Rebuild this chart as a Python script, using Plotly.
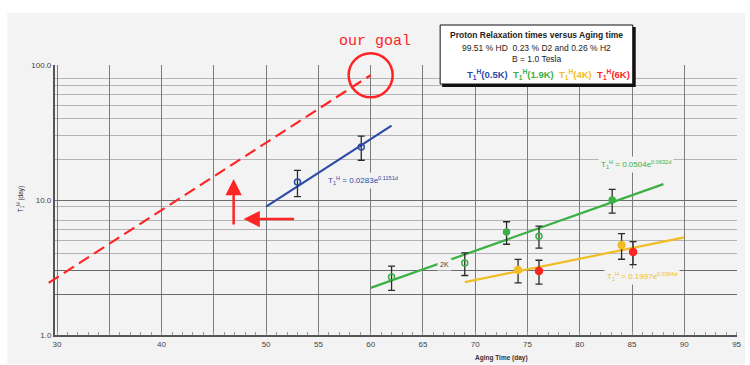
import math
import plotly.graph_objects as go

# ---- measured proton T1 (days) versus aging time (days), symmetric errors ----
days_05K = [53.0, 59.1]
t1_05K = [13.6, 24.7]
err_05K = [3.0, 5.0]

days_19K = [62.0, 69.0, 73.0, 76.1, 83.1]
t1_19K = [2.69, 3.41, 5.8, 5.4, 10.0]
err_19K = [0.55, 0.65, 1.1, 1.0, 2.0]
filled_19K = [False, False, True, False, True]

days_4K = [74.1, 84.0]
t1_4K = [3.03, 4.64]
err_4K = [0.6, 1.0]

days_6K = [76.1, 85.1]
t1_6K = [2.98, 4.12]
err_6K = [0.6, 0.8]

# exponential fits T1 = A * exp(k * d) and the day span each one is drawn over
fit_names = ["0.5K", "1.9K", "4K"]
fit_A = [0.0283, 0.0504, 0.1997]
fit_k = [0.1151, 0.0632, 0.0364]
fit_start = [50.0, 60.0, 69.0]
fit_end = [62.0, 88.0, 90.0]

# target line
goal_days = [29.2, 60.0]
goal_t1 = [2.43, 84.0]

# axis ticks
x_tick_vals = [30, 35, 40, 45, 50, 55, 60, 65, 70, 75, 80, 85, 90, 95]
x_tick_text = ["30", "", "40", "", "50", "55", "60", "65", "70", "75", "80", "85", "90", "95"]
y_tick_vals = [1, 2, 3, 10, 100]
y_tick_text = ["1.0", "", "", "10.0", "100.0"]
y_minor_vals = [4, 5, 6, 7, 9, 20, 30, 40, 50, 60, 70, 80]

BLUE = "#2d4ca8"
GREEN = "#3bb044"
YELLOW = "#f0bd25"
RED = "#ff2424"
BG = "#f3f3f3"
FONT = "Liberation Sans, Arial, sans-serif"
MONO = "Liberation Mono, DejaVu Sans Mono, monospace"

W, H = 750, 365
ML, MR, MT, MB = 45, 8, 65, 30
PW, PH = W - ML - MR, H - MT - MB


def px(x):
    return (x - ML) / PW


def py(y):
    return (MT + PH - y) / PH


x_lo, x_hi = 29.8, 95.04
x_dom0 = px(55)
units_per_frac = (x_hi - x_lo) / (1 - x_dom0)
x2_lo = x_lo - x_dom0 * units_per_frac

fig = go.Figure()

# target line and circle live on a wider overlay subplot so they can run past the axis
fig.add_trace(go.Scatter(
    x=goal_days, y=goal_t1, mode="lines",
    line=dict(color=RED, width=2.2, dash="12px,6px"),
    xaxis="x2", yaxis="y2", hoverinfo="skip"))
fig.add_trace(go.Scatter(
    x=[goal_days[-1]], y=[goal_t1[-1]], mode="markers",
    marker=dict(symbol="circle-open", size=44, color=RED, line=dict(width=2.5, color=RED)),
    cliponaxis=False, xaxis="x2", yaxis="y2", hoverinfo="skip"))

# fit lines
for A, k, d0, d1, col in zip(fit_A, fit_k, fit_start, fit_end, [BLUE, GREEN, YELLOW]):
    fig.add_trace(go.Scatter(
        x=[d0, d1], y=[A * math.exp(k * d0), A * math.exp(k * d1)],
        mode="lines", line=dict(color=col, width=2.2)))

err_style = dict(type="data", color="#2a2a2a", thickness=1.3, width=3.5)


def points(days, vals, errs, color, symbols, size=7):
    fig.add_trace(go.Scatter(
        x=days, y=vals, mode="markers",
        marker=dict(symbol=symbols, size=size, color=color, line=dict(color=color, width=1.5)),
        error_y=dict(array=errs, **err_style)))


points(days_05K, t1_05K, err_05K, BLUE, "circle-open", 6)
points(days_19K, t1_19K, err_19K, GREEN,
       ["circle" if f else "circle-open" for f in filled_19K], 6)
points(days_4K, t1_4K, err_4K, YELLOW, "circle", 7)
points(days_6K, t1_6K, err_6K, RED, "circle", 7)

shapes = [
    dict(type="rect", xref="paper", yref="paper", x0=px(7), x1=px(750), y0=py(364), y1=py(13),
         fillcolor=BG, line=dict(width=0), layer="below"),
    # header box with drop shadow
    dict(type="rect", xref="paper", yref="paper", x0=px(445), x1=px(640), y0=py(87), y1=py(27),
         fillcolor="#111", line=dict(width=0), layer="above"),
    dict(type="rect", xref="paper", yref="paper", x0=px(443), x1=px(637), y0=py(84), y1=py(25),
         fillcolor="white", line=dict(width=1, color="#111"), layer="above"),
]

annotations = []


def label(x, y, text, size, color="#222", bg=None, family=FONT, **kw):
    d = dict(xref="paper", yref="paper", x=px(x), y=py(y), text=text, showarrow=False,
             font=dict(family=family, size=size, color=color), xanchor="center", yanchor="middle")
    if bg:
        d.update(bgcolor=bg, borderpad=2)
    d.update(kw)
    annotations.append(d)


T1H = "T<sub>1</sub><sup>H</sup>"
label(540, 35, "<b>Proton Relaxation times versus Aging time</b>", 8.5)
label(540, 48, "99.51 % HD  0.23 % D2 and 0.26 % H2", 8.5)
label(540, 59, "B = 1.0 Tesla", 8.5)
label(552, 74,
      f"<b><span style='color:{BLUE}'>{T1H}(0.5K)</span>  "
      f"<span style='color:{GREEN}'>{T1H}(1.9K)</span>  "
      f"<span style='color:{YELLOW}'>{T1H}(4K)</span>  "
      f"<span style='color:{RED}'>{T1H}(6K)</span></b>", 9.5)

# fit equations, written from the fit parameters
label(365, 180, f"{T1H} = {fit_A[0]:.4f}e<sup>{fit_k[0]:.4f}d</sup>", 8, BLUE, BG)
label(640, 164, f"{T1H} = {fit_A[1]:.4f}e<sup>{fit_k[1]:.4f}d</sup>", 8, GREEN, BG)
label(646, 276, f"{T1H} = {fit_A[2]:.4f}e<sup>{fit_k[2]:.4f}d</sup>", 8, YELLOW, BG)
label(447, 264, "2K", 7, "#444", BG)

label(377, 41, "our goal", 15, RED, family=MONO)
label(20, 199, f"{T1H} (day)", 6.5, "#333", textangle=-90)
label(505, 358, "<b>Aging Time (day)</b>", 6.5, "#333")

# red arrows
annotations.append(dict(xref="paper", yref="paper", x=px(235), y=py(179), ax=0, ay=47,
                        text="", showarrow=True, arrowhead=2, arrowsize=1.3, arrowwidth=2.5,
                        arrowcolor=RED, standoff=0))
annotations.append(dict(xref="paper", yref="paper", x=px(245), y=py(219), ax=52, ay=0,
                        text="", showarrow=True, arrowhead=2, arrowsize=1.3, arrowwidth=2.5,
                        arrowcolor=RED, standoff=0))

tick_font = dict(family=FONT, size=8, color="#444")

fig.update_layout(
    width=W, height=H,
    margin=dict(l=ML, r=MR, t=MT, b=MB),
    paper_bgcolor="white", plot_bgcolor="rgba(0,0,0,0)",
    showlegend=False,
    shapes=shapes, annotations=annotations,
    xaxis=dict(domain=[x_dom0, 1], range=[x_lo, x_hi], anchor="y",
               tickmode="array", tickvals=x_tick_vals, ticktext=x_tick_text,
               showgrid=True, gridcolor="#7c7c7c", gridwidth=1.2,
               showline=True, linecolor="#555", linewidth=2,
               ticks="", zeroline=False, tickfont=tick_font,
               minor=dict(tickmode="linear", tick0=0, dtick=1, ticks="inside",
                          ticklen=3, tickcolor="#999", showgrid=False)),
    yaxis=dict(domain=[0, 1], type="log", range=[0, 2], anchor="x",
               tickmode="array", tickvals=y_tick_vals, ticktext=y_tick_text,
               showgrid=True, gridcolor="#6c6c6c", gridwidth=1.2,
               showline=True, linecolor="#555", linewidth=2,
               ticks="", zeroline=False, tickfont=tick_font,
               minor=dict(tickmode="array", tickvals=y_minor_vals, showgrid=True,
                          gridcolor="#b4b4b4", gridwidth=1, ticks="")),
    xaxis2=dict(domain=[0, 1], range=[x2_lo, x_hi], anchor="y2", visible=False),
    yaxis2=dict(domain=[0, 1], type="log", range=[0, 2], anchor="x2", visible=False),
)

fig.write_html("out.html")
